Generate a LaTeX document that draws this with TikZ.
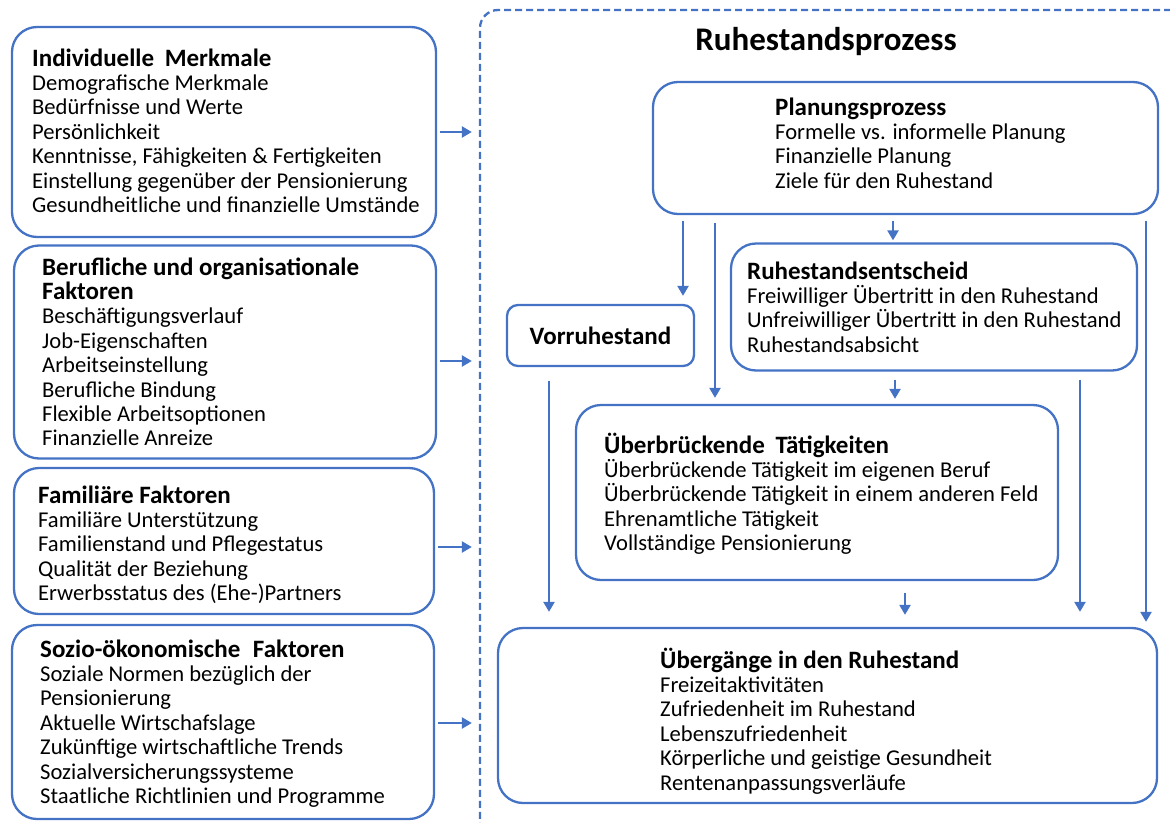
\documentclass[tikz,border=0pt]{standalone}
\usepackage{fontspec}
\setmainfont{Carlito}
\usetikzlibrary{arrows.meta}
\definecolor{bl}{HTML}{4472C4}
\newcommand{\myhead}[1]{{\fontsize{25}{24.4}\selectfont\bfseries #1}}
\begin{document}
\begin{tikzpicture}[x=1pt,y=-1pt,
  box/.style={draw=bl,line width=2.3pt,rounded corners=25pt,inner sep=0pt},
  sbox/.style={draw=bl,line width=2.3pt,rounded corners=11pt,inner sep=0pt},
  txt/.style={anchor=base west,align=left,inner sep=0pt,font=\fontsize{22.6}{24.4}\selectfont},
  arr/.style={draw=bl,line width=2.3pt,-{Triangle[width=11pt,length=10pt]}}]
\useasboundingbox (0,0) rectangle (1170,822);
\begin{scope}
\clip (0,0) rectangle (1170,822);
\node[draw=bl,line width=2.3pt,dash pattern=on 7pt off 4pt,rounded corners=18pt,minimum width=720pt,minimum height=840pt,inner sep=0pt] (proc) at (840,430) {};
\end{scope}
% left boxes
\node[box,minimum width=424pt,minimum height=210pt] (ind) at (224,132) {};
\node[box,minimum width=422pt,minimum height=213pt] (ber) at (225,352) {};
\node[box,minimum width=420pt,minimum height=146pt] (fam) at (224,541) {};
\node[box,minimum width=422pt,minimum height=194pt] (soz) at (223,722) {};
\node[txt] (indt) at (32,212.4) {\myhead{Individuelle\hspace{5pt} Merkmale}\\Demografische Merkmale\\Bedürfnisse und Werte\\Persönlichkeit\\Kenntnisse, Fähigkeiten \& Fertigkeiten\\Einstellung gegenüber der Pensionierung\\Gesundheitliche und finanzielle Umstände};
\node[txt] (bert) at (42,445.8) {\myhead{Berufliche und organisationale}\\\myhead{Faktoren}\\Beschäftigungsverlauf\\Job-Eigenschaften\\Arbeitseinstellung\\Berufliche Bindung\\Flexible Arbeitsoptionen\\Finanzielle Anreize};
\node[txt] (famt) at (38,600.6) {\myhead{Familiäre Faktoren}\\Familiäre Unterstützung\\Familienstand und Pflegestatus\\Qualität der Beziehung\\Erwerbsstatus des (Ehe-)Partners};
\node[txt] (sozt) at (40,803.4) {\myhead{Sozio-ökonomische\hspace{7pt} Faktoren}\\Soziale Normen bezüglich der\\Pensionierung\\Aktuelle Wirtschafslage\\Zukünftige wirtschaftliche Trends\\Sozialversicherungssysteme\\Staatliche Richtlinien und Programme};
\draw[arr,shorten <=3pt,shorten >=7pt] (ind.east |- 0,132) -- (proc.west |- 0,132);
\draw[arr,shorten <=3pt,shorten >=7pt] (ber.east |- 0,361) -- (proc.west |- 0,361);
\draw[arr,shorten <=3pt,shorten >=7pt] (fam.east |- 0,547) -- (proc.west |- 0,547);
\draw[arr,shorten <=3pt,shorten >=7pt] (soz.east |- 0,723) -- (proc.west |- 0,723);
% title
\node[font=\fontsize{33}{36}\selectfont\bfseries,inner sep=0pt] (title) at (826,42) {Ruhestandsprozess};
% right boxes
\node[box,minimum width=505pt,minimum height=132pt] (plan) at (905.5,148) {};
\node[txt] (plant) at (775,188.2) {\myhead{Planungsprozess}\\Formelle vs. informelle Planung\\Finanzielle Planung\\Ziele für den Ruhestand};
\node[box,minimum width=406pt,minimum height=127pt] (ent) at (934,307) {};
\node[txt] (entt) at (747,352.2) {\myhead{Ruhestandsentscheid}\\Freiwilliger Übertritt in den Ruhestand\\Unfreiwilliger Übertritt in den Ruhestand\\Ruhestandsabsicht};
\node[sbox,minimum width=187pt,minimum height=61pt,font=\fontsize{25}{24.4}\selectfont\bfseries] (vor) at (600.5,335.5) {Vorruhestand};
\node[box,minimum width=482pt,minimum height=175pt] (ueb) at (817,492.5) {};
\node[txt] (uebt) at (604,550.6) {\myhead{Überbrückende\hspace{5pt} Tätigkeiten}\\Überbrückende Tätigkeit im eigenen Beruf\\Überbrückende Tätigkeit in einem anderen Feld\\Ehrenamtliche Tätigkeit\\Vollständige Pensionierung};
\node[box,minimum width=659pt,minimum height=175pt] (ueg) at (827.5,715.5) {};
\node[txt] (uegt) at (660,790) {\myhead{Übergänge in den Ruhestand}\\Freizeitaktivitäten\\Zufriedenheit im Ruhestand\\Lebenszufriedenheit\\Körperliche und geistige Gesundheit\\Rentenanpassungsverläufe};
% connectors
\draw[arr,shorten <=6pt,shorten >=8pt] (683,0 |- plan.south) -- (683,0 |- vor.north);
\draw[arr,shorten <=8pt,shorten >=6pt] (715,0 |- plan.south) -- (715,0 |- ueb.north);
\draw[arr,shorten <=6pt,shorten >=2pt] (893,0 |- plan.south) -- (893,0 |- ent.north);
\draw[arr,shorten <=6pt,shorten >=5pt] (1146,0 |- plan.south) -- (1146,0 |- ueg.north);
\draw[arr,shorten <=8pt,shorten >=5pt] (895,0 |- ent.south) -- (895,0 |- ueb.north);
\draw[arr,shorten <=8pt,shorten >=15pt] (1080,0 |- ent.south) -- (1080,0 |- ueg.north);
\draw[arr,shorten <=14pt,shorten >=15pt] (549,0 |- vor.south) -- (549,0 |- ueg.north);
\draw[arr,shorten <=12pt,shorten >=12pt] (905,0 |- ueb.south) -- (905,0 |- ueg.north);
\end{tikzpicture}
\end{document}
